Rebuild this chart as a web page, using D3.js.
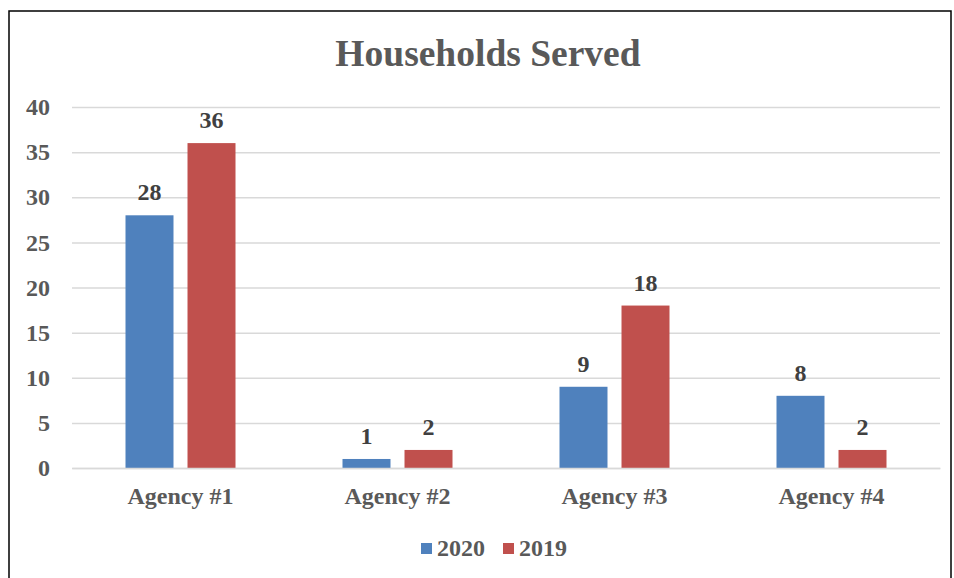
<!DOCTYPE html>
<html><head><meta charset="utf-8">
<script src="https://cdn.jsdelivr.net/npm/d3@7"></script>
<style>body{margin:0;background:#fff}</style>
</head><body>
<svg id="c" width="954" height="578"></svg>
<script>
const categories = ["Agency #1","Agency #2","Agency #3","Agency #4"];
const seriesNames = ["2020","2019"];
const values2020 = [28,1,9,8];
const values2019 = [36,2,18,2];
const yTicks = [0,5,10,15,20,25,30,35,40];
const colors = ["#4F81BD","#C0504D"];

(function(){
const svg = d3.select("#c");
const font = "'Liberation Serif','Times New Roman',serif";
svg.append("rect").attr("x",9).attr("y",11).attr("width",942).attr("height",600)
  .attr("fill","#fff").attr("stroke","#000").attr("stroke-width",1.5);

const pL=72,pR=940,pT=107,pB=468;
const x = d3.scaleBand().domain(categories).range([pL,pR]);
const xs = d3.scaleBand().domain(seriesNames).range([0,110]).paddingInner(0.226);
const y = d3.scaleLinear().domain([0,40]).range([pB,pT]);

svg.append("text").attr("x",488).attr("y",66).attr("text-anchor","middle")
  .attr("font-family",font).attr("font-weight","bold").attr("font-size",37.5)
  .attr("fill","#595959").text("Households Served");

const yAxis = svg.append("g").attr("transform",`translate(${pL},0)`)
  .call(d3.axisLeft(y).tickValues(yTicks).tickSize(-(pR-pL)).tickPadding(22));
yAxis.select(".domain").remove();
yAxis.selectAll(".tick line").attr("stroke","#d9d9d9").attr("stroke-width",1.5);
yAxis.selectAll(".tick text").attr("font-family",font).attr("font-weight","bold")
  .attr("font-size",24).attr("fill","#595959");

const data = categories.map((c,i)=>({c, v:[values2020[i],values2019[i]]}));
const g = svg.append("g");
data.forEach(d=>{
  const x0 = x(d.c) + x.bandwidth()/2 - 55;
  seriesNames.forEach((s,j)=>{
    const bx = x0 + xs(s);
    g.append("rect").attr("x",bx).attr("y",y(d.v[j])).attr("width",xs.bandwidth())
      .attr("height",pB-y(d.v[j])).attr("fill",colors[j]);
    g.append("text").attr("x",bx+xs.bandwidth()/2).attr("y",y(d.v[j])-15)
      .attr("text-anchor","middle").attr("font-family",font).attr("font-weight","bold")
      .attr("font-size",24).attr("fill","#404040").text(d.v[j]);
  });
});

const xAxis = svg.append("g").attr("transform",`translate(0,${pB})`)
  .call(d3.axisBottom(x).tickSize(0).tickPadding(19));
xAxis.select(".domain").attr("stroke","#d9d9d9").attr("stroke-width",1.5);
xAxis.selectAll(".tick text").attr("font-family",font).attr("font-weight","bold")
  .attr("font-size",24).attr("fill","#595959");

const leg = svg.append("g");
const legX=[421,503];
seriesNames.forEach((s,j)=>{
  leg.append("rect").attr("x",legX[j]).attr("y",543).attr("width",11).attr("height",11).attr("fill",colors[j]);
  leg.append("text").attr("x",legX[j]+16).attr("y",556).attr("font-family",font)
    .attr("font-weight","bold").attr("font-size",24).attr("fill","#595959").text(s);
});
})();
</script>
</body></html>
